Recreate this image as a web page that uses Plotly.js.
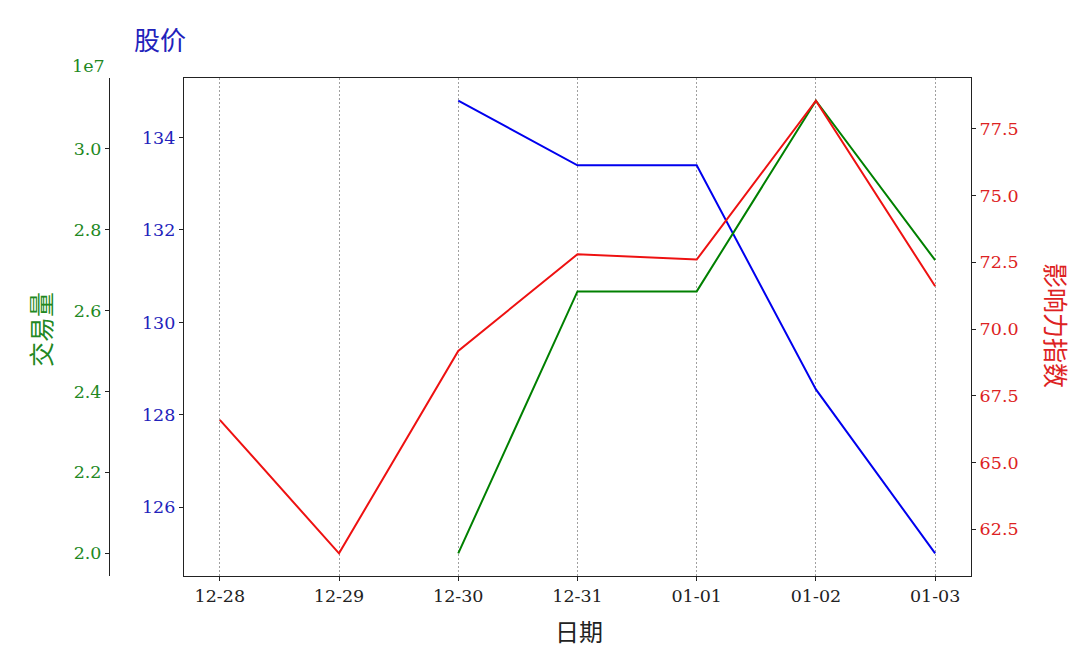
<!DOCTYPE html>
<html>
<head>
<meta charset="utf-8">
<script src="https://cdn.plot.ly/plotly-3.0.1.min.js"></script>
<style>html,body{margin:0;padding:0;background:#fff;}#chart{width:1080px;height:648px;}</style>
</head>
<body>
<div id="chart"></div>
<script>
const dates = ["12-28","12-29","12-30","12-31","01-01","01-02","01-03"];
const stockPrice = [null, null, 134.8, 133.4, 133.4, 128.55, 125.0];
const volume = [null, null, 2.0e7, 2.647e7, 2.647e7, 3.118e7, 2.724e7];
const influence = [66.6, 61.6, 69.18, 72.8, 72.6, 78.55, 71.6];
const priceTicks = [126, 128, 130, 132, 134];
const volumeTicks = [2.0e7, 2.2e7, 2.4e7, 2.6e7, 2.8e7, 3.0e7];
const volumeTickText = ["2.0", "2.2", "2.4", "2.6", "2.8", "3.0"];
const influenceTicks = [62.5, 65.0, 67.5, 70.0, 72.5, 75.0, 77.5];
const influenceTickText = ["62.5", "65.0", "67.5", "70.0", "72.5", "75.0", "77.5"];

const serif = "DejaVu Serif, Liberation Serif, serif";
const cjk = "Noto Sans CJK SC, sans-serif";

const traces = [
  {x: dates, y: stockPrice, type: "scatter", mode: "lines", name: "股价",
   line: {color: "#0000ee", width: 2}, xaxis: "x", yaxis: "y", connectgaps: false},
  {x: dates, y: volume, type: "scatter", mode: "lines", name: "交易量",
   line: {color: "#008000", width: 2}, xaxis: "x", yaxis: "y2", connectgaps: false},
  {x: dates, y: influence, type: "scatter", mode: "lines", name: "影响力指数",
   line: {color: "#ee1111", width: 2}, xaxis: "x", yaxis: "y3"}
];

const layout = {
  width: 1080, height: 648,
  margin: {l: 0, r: 0, t: 0, b: 0},
  paper_bgcolor: "#fff", plot_bgcolor: "rgba(0,0,0,0)",
  showlegend: false,
  xaxis: {
    domain: [0.1704, 0.899], anchor: "y", type: "category", range: [-0.3, 6.3],
    showline: true, mirror: true, linecolor: "#222", linewidth: 1.2,
    ticks: "outside", ticklen: 4, tickcolor: "#222",
    showgrid: true, gridcolor: "#888", griddash: "2px,2px", gridwidth: 0.8,
    zeroline: false, tickfont: {family: serif, size: 17.5, color: "#222"}
  },
  yaxis: {
    domain: [0.1111, 0.8796], anchor: "x", range: [124.51, 135.29],
    tickvals: priceTicks, showline: true, linecolor: "#222", linewidth: 1.2,
    ticks: "outside", ticklen: 4, tickcolor: "#222", showgrid: false, zeroline: false,
    tickfont: {family: serif, size: 17.5, color: "#2222bb"}
  },
  yaxis2: {
    overlaying: "y", anchor: "free", position: 0.1009, side: "left",
    range: [1.944e7, 3.174e7], tickvals: volumeTicks, ticktext: volumeTickText,
    showline: true, linecolor: "#222", linewidth: 1.2,
    ticks: "outside", ticklen: 4, tickcolor: "#222", showgrid: false, zeroline: false,
    tickfont: {family: serif, size: 17.5, color: "#228822"}
  },
  yaxis3: {
    overlaying: "y", anchor: "x", side: "right",
    range: [60.75, 79.4], tickvals: influenceTicks, ticktext: influenceTickText,
    showline: true, linecolor: "#222", linewidth: 1.2,
    ticks: "outside", ticklen: 4, tickcolor: "#222", showgrid: false, zeroline: false,
    tickfont: {family: serif, size: 17.5, color: "#dd2222"}
  },
  annotations: [
    {text: "股价", xref: "paper", yref: "paper", x: 160/1080, y: 1 - 38/648,
     showarrow: false, xanchor: "center", yanchor: "middle",
     font: {family: cjk, size: 26, color: "#2222bb"}},
    {text: "1e7", xref: "paper", yref: "paper", x: 88/1080, y: 1 - 66/648,
     showarrow: false, xanchor: "center", yanchor: "middle",
     font: {family: serif, size: 17.5, color: "#228822"}},
    {text: "交易量", xref: "paper", yref: "paper", x: 40/1080, y: 1 - 330/648,
     showarrow: false, xanchor: "center", yanchor: "middle", textangle: -90,
     font: {family: cjk, size: 25, color: "#228822"}},
    {text: "影响力指数", xref: "paper", yref: "paper", x: 1057/1080, y: 1 - 325/648,
     showarrow: false, xanchor: "center", yanchor: "middle", textangle: 90,
     font: {family: cjk, size: 25, color: "#dd2222"}},
    {text: "日期", xref: "paper", yref: "paper", x: 579/1080, y: 1 - 630/648,
     showarrow: false, xanchor: "center", yanchor: "middle",
     font: {family: cjk, size: 24, color: "#222"}}
  ]
};

Plotly.newPlot("chart", traces, layout, {displayModeBar: false, staticPlot: true});
</script>
</body>
</html>
